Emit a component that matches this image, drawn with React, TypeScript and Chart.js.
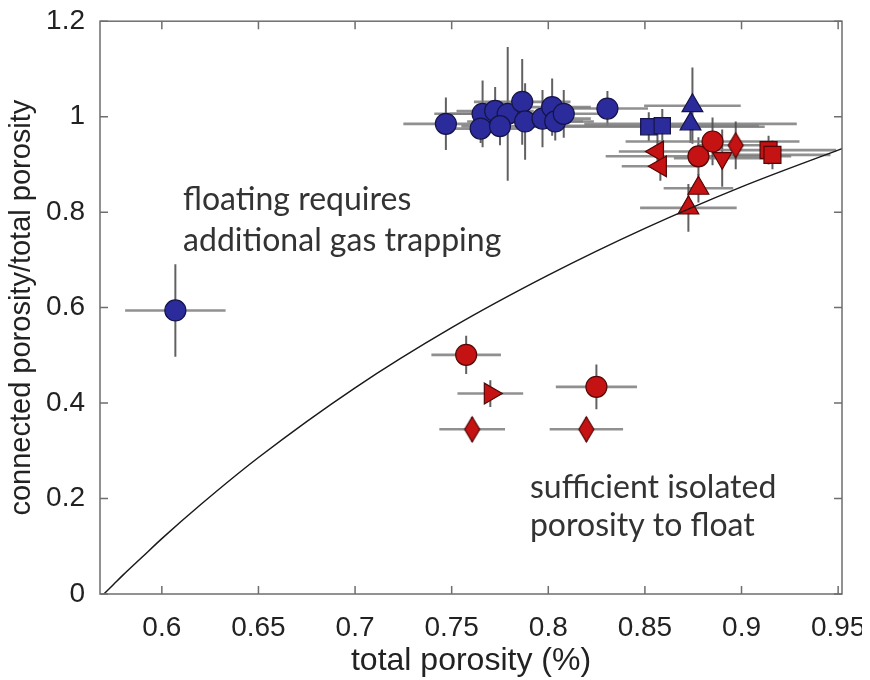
import React, { useEffect, useRef } from "react";
import { Chart, registerables } from "chart.js";
Chart.register(...registerables);

// ---------- data ----------
const xTicks = [0.6, 0.65, 0.7, 0.75, 0.8, 0.85, 0.9, 0.95];
const yTicks = [0, 0.2, 0.4, 0.6, 0.8, 1, 1.2];

// [total porosity, connected/total, x error, y error]
const blueCircles = [
  [0.607, 0.594, 0.026, 0.097],
  [0.747, 0.985, 0.022, 0.055],
  [0.766, 1.006, 0.025, 0.07],
  [0.765, 0.975, 0.02, 0.03],
  [0.7725, 1.012, 0.02, 0.05],
  [0.779, 1.006, 0.03, 0.14],
  [0.775, 0.98, 0.02, 0.04],
  [0.7865, 1.031, 0.025, 0.09],
  [0.788, 0.99, 0.03, 0.08],
  [0.797, 0.996, 0.025, 0.06],
  [0.802, 1.02, 0.02, 0.06],
  [0.8036, 0.99, 0.02, 0.04],
  [0.808, 1.006, 0.02, 0.05],
  [0.8306, 1.017, 0.021, 0.037],
];
const blueSquares = [
  [0.852, 0.979, 0.06, 0.03],
  [0.859, 0.981, 0.05, 0.035],
];
const blueTriangles = [
  [0.8746, 1.023, 0.025, 0.08],
  [0.8736, 0.985, 0.055, 0.04],
];
const redCircles = [
  [0.7575, 0.501, 0.018, 0.04],
  [0.8249, 0.434, 0.021, 0.047],
  [0.8777, 0.917, 0.048, 0.04],
  [0.885, 0.948, 0.045, 0.05],
];
const redLeftTriangles = [
  [0.8565, 0.927, 0.02, 0.04],
  [0.858, 0.896, 0.02, 0.03],
];
const redUpTriangles = [
  [0.8777, 0.85, 0.018, 0.03],
  [0.8725, 0.809, 0.025, 0.05],
];
const redDownTriangles = [[0.89, 0.913, 0.025, 0.06]];
const redRightTriangles = [[0.77, 0.42, 0.017, 0.028]];
const redDiamonds = [
  [0.7606, 0.345, 0.017, 0.026],
  [0.8197, 0.345, 0.019, 0.026],
  [0.897, 0.94, 0.02, 0.05],
];
const redSquares = [
  [0.914, 0.93, 0.035, 0.03],
  [0.916, 0.92, 0.03, 0.03],
];

// threshold curve
const curveX = [0.57, 0.575, 0.58, 0.59, 0.6, 0.62, 0.65, 0.7, 0.75, 0.8, 0.85, 0.9, 0.95, 0.952];
const curveY = [0, 0.02, 0.04, 0.078, 0.116, 0.187, 0.286, 0.432, 0.558, 0.668, 0.766, 0.853, 0.93, 0.933];

const annotations = [
  { x: 0.611, y: 0.827, text: "floating requires" },
  { x: 0.611, y: 0.741, text: "additional gas trapping" },
  { x: 0.7905, y: 0.222, text: "sufficient isolated" },
  { x: 0.7905, y: 0.144, text: "porosity to float" },
];

// ---------- styles ----------
const BLUE = "#2b2b9c";
const BLUE_EDGE = "#14144a";
const RED = "#c51212";
const RED_EDGE = "#560606";
const FONT = "'Liberation Sans', Arial, sans-serif";

function makeDiamond(w: number, h: number, fill: string, stroke: string) {
  const c = document.createElement("canvas");
  c.width = w + 4;
  c.height = h + 4;
  const g = c.getContext("2d")!;
  const cx = c.width / 2, cy = c.height / 2;
  g.beginPath();
  g.moveTo(cx, cy - h / 2);
  g.lineTo(cx + w / 2, cy);
  g.lineTo(cx, cy + h / 2);
  g.lineTo(cx - w / 2, cy);
  g.closePath();
  g.fillStyle = fill;
  g.fill();
  g.lineWidth = 1.2;
  g.strokeStyle = stroke;
  g.stroke();
  return c;
}

const toPts = (arr: number[][]) => arr.map((d) => ({ x: d[0], y: d[1] }));

function markerSet(arr: number[][], style: any, radius: number, rot: number, fill: string, edge: string) {
  return {
    type: "scatter" as const,
    data: toPts(arr),
    errs: arr.map((d) => [d[2], d[3]]),
    pointStyle: style,
    pointRadius: radius,
    pointHoverRadius: radius,
    pointRotation: rot,
    backgroundColor: fill,
    borderColor: edge,
    borderWidth: 1.2,
    showLine: false,
  };
}

const errorBarPlugin = {
  id: "errorBars",
  beforeDatasetsDraw(chart: any) {
    const { ctx, scales } = chart;
    const xs = scales.x, ys = scales.y;
    const a = chart.chartArea;
    ctx.save();
    ctx.beginPath();
    ctx.rect(a.left, a.top, a.right - a.left, a.bottom - a.top);
    ctx.clip();
    chart.data.datasets.forEach((ds: any) => {
      if (!ds.errs) return;
      ds.data.forEach((p: any, i: number) => {
        const [ex, ey] = ds.errs[i];
        const px = xs.getPixelForValue(p.x), py = ys.getPixelForValue(p.y);
        ctx.lineWidth = 2.6;
        ctx.strokeStyle = "rgba(125,125,125,0.85)";
        ctx.beginPath();
        ctx.moveTo(xs.getPixelForValue(p.x - ex), py);
        ctx.lineTo(xs.getPixelForValue(p.x + ex), py);
        ctx.stroke();
        ctx.lineWidth = 2;
        ctx.strokeStyle = "rgba(80,80,80,0.9)";
        ctx.beginPath();
        ctx.moveTo(px, ys.getPixelForValue(p.y - ey));
        ctx.lineTo(px, ys.getPixelForValue(p.y + ey));
        ctx.stroke();
      });
    });
    ctx.restore();
  },
};

const framePlugin = {
  id: "frame",
  afterDraw(chart: any) {
    const { ctx, chartArea: a, scales } = chart;
    ctx.save();
    ctx.strokeStyle = "#6e6e6e";
    ctx.lineWidth = 1.5;
    ctx.strokeRect(a.left, a.top, a.right - a.left, a.bottom - a.top);
    const tl = 8;
    ctx.beginPath();
    xTicks.forEach((v) => {
      const px = scales.x.getPixelForValue(v);
      ctx.moveTo(px, a.bottom);
      ctx.lineTo(px, a.bottom - tl);
      ctx.moveTo(px, a.top);
      ctx.lineTo(px, a.top + tl);
    });
    yTicks.forEach((v) => {
      const py = scales.y.getPixelForValue(v);
      ctx.moveTo(a.left, py);
      ctx.lineTo(a.left + tl, py);
      ctx.moveTo(a.right, py);
      ctx.lineTo(a.right - tl, py);
    });
    ctx.stroke();
    // annotations
    ctx.fillStyle = "#333";
    ctx.font = "32px Lato, 'Open Sans', sans-serif";
    ctx.textBaseline = "middle";
    ctx.textAlign = "left";
    annotations.forEach((t) => {
      ctx.fillText(t.text, scales.x.getPixelForValue(t.x), scales.y.getPixelForValue(t.y));
    });
    ctx.restore();
  },
};

const fmt = (v: any) => String(parseFloat(Number(v).toFixed(2)));

export default function App() {
  const ref = useRef<HTMLCanvasElement>(null);
  useEffect(() => {
    const redDiamond = makeDiamond(15, 25, RED, RED_EDGE);
    const chart = new Chart(ref.current!, {
      type: "scatter",
      data: {
        datasets: [
          {
            type: "line",
            data: curveX.map((x, i) => ({ x, y: curveY[i] })),
            borderColor: "#1a1a1a",
            borderWidth: 1.5,
            pointRadius: 0,
            cubicInterpolationMode: "monotone",
            fill: false,
          } as any,
          markerSet(blueCircles, "circle", 10.5, 0, BLUE, BLUE_EDGE),
          markerSet(blueSquares, "rect", 11.5, 0, BLUE, BLUE_EDGE),
          markerSet(blueTriangles, "triangle", 12, 0, BLUE, BLUE_EDGE),
          markerSet(redCircles, "circle", 10.5, 0, RED, RED_EDGE),
          markerSet(redLeftTriangles, "triangle", 12, -90, RED, RED_EDGE),
          markerSet(redUpTriangles, "triangle", 12, 0, RED, RED_EDGE),
          markerSet(redDownTriangles, "triangle", 11, 180, RED, RED_EDGE),
          markerSet(redRightTriangles, "triangle", 12, 90, RED, RED_EDGE),
          markerSet(redDiamonds, redDiamond, 10, 0, RED, RED_EDGE),
          markerSet(redSquares, "rect", 12, 0, RED, RED_EDGE),
        ] as any,
      },
      options: {
        animation: false,
        responsive: true,
        maintainAspectRatio: false,
        layout: { padding: { top: 9, right: 20, left: 0, bottom: 0 } },
        plugins: { legend: { display: false }, tooltip: { enabled: false } },
        events: [],
        scales: {
          x: {
            type: "linear",
            min: 0.568,
            max: 0.952,
            afterBuildTicks: (s: any) => {
              s.ticks = xTicks.map((v) => ({ value: v }));
            },
            afterFit: (s: any) => {
              s.height = 86;
              s.paddingLeft = 0;
              s.paddingRight = 0;
            },
            grid: { display: false, drawTicks: false },
            border: { display: false },
            ticks: {
              callback: fmt,
              padding: 17,
              color: "#222",
              font: { family: FONT, size: 28 },
              maxRotation: 0,
              autoSkip: false,
            },
            title: {
              display: true,
              text: "total porosity (%)",
              color: "#222",
              font: { family: FONT, size: 32 },
              padding: { top: 0, bottom: 0 },
            },
          },
          y: {
            type: "linear",
            min: 0,
            max: 1.2,
            afterBuildTicks: (s: any) => {
              s.ticks = yTicks.map((v) => ({ value: v }));
            },
            afterFit: (s: any) => {
              s.width = 92;
              s.paddingTop = 0;
              s.paddingBottom = 0;
            },
            grid: { display: false, drawTicks: false },
            border: { display: false },
            ticks: {
              callback: fmt,
              padding: 15,
              color: "#222",
              font: { family: FONT, size: 28 },
              autoSkip: false,
            },
            title: {
              display: true,
              text: "connected porosity/total porosity",
              color: "#222",
              font: { family: FONT, size: 29 },
              padding: { top: -3, bottom: 0 },
            },
          },
        },
      } as any,
      plugins: [errorBarPlugin, framePlugin],
    });
    return () => chart.destroy();
  }, []);
  return (
    <div style={{ width: 854, height: 672, position: "relative" }}>
      <canvas ref={ref} />
    </div>
  );
}
